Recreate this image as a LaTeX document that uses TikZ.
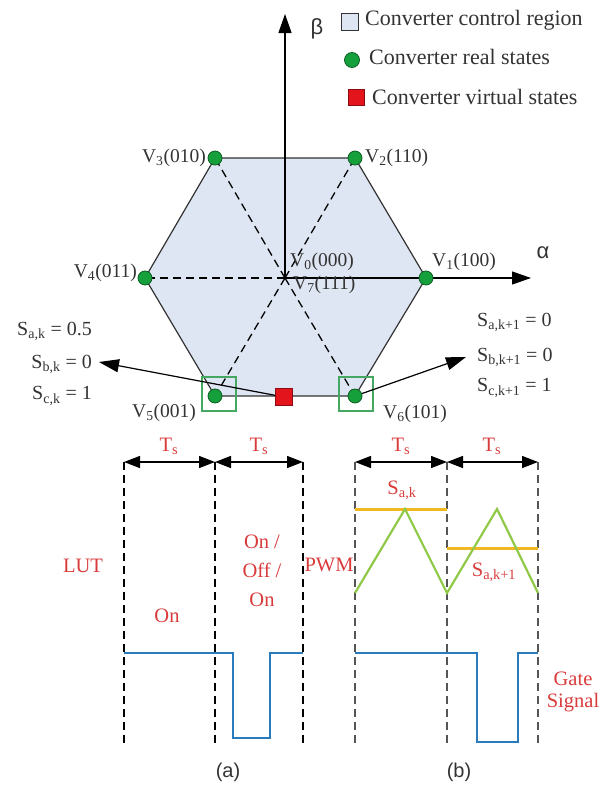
\documentclass[tikz,border=0pt]{standalone}
\usepackage{fontspec}
\setmainfont{Liberation Serif}
\newfontfamily\sansf{Liberation Sans}
\usetikzlibrary{arrows.meta}
\definecolor{hexfill}{HTML}{DFE6F3}
\definecolor{dotgreen}{HTML}{15A03C}
\definecolor{dotedge}{HTML}{0E5E24}
\definecolor{boxgreen}{HTML}{45A862}
\definecolor{vred}{HTML}{E3141C}
\definecolor{txtred}{HTML}{D93B3B}
\definecolor{sigblue}{HTML}{2A7BBE}
\definecolor{yel}{HTML}{F2B824}
\definecolor{lgreen}{HTML}{90C847}
\definecolor{txtgray}{HTML}{333333}
\definecolor{dashgray}{HTML}{555555}
\newcommand{\mysub}[1]{\textsubscript{#1}}
\begin{document}
\begin{tikzpicture}[x=1pt,y=-1pt,
  dot/.style={circle,fill=dotgreen,draw=dotedge,line width=0.8pt,minimum size=14pt,inner sep=0pt},
  gbox/.style={rectangle,draw=boxgreen,line width=1.3pt,minimum size=34pt,inner sep=0pt},
  rsq/.style={rectangle,fill=vred,draw=vred!60!black,line width=0.6pt,minimum size=17pt,inner sep=0pt},
  vlbl/.style={font=\fontsize{19.5}{21}\selectfont,text=txtgray,inner sep=0pt},
  slbl/.style={font=\fontsize{20}{22}\selectfont,text=txtgray,inner sep=0pt},
  leg/.style={font=\fontsize{22}{24}\selectfont,text=txtgray,inner sep=0pt,anchor=west},
  rlbl/.style={font=\fontsize{20.5}{29}\selectfont,text=txtred,inner sep=0pt,align=center},
  glbl/.style={font=\sansf\fontsize{22}{24}\selectfont,text=txtgray,inner sep=0pt},
  axis/.style={line width=1.2pt,-{Triangle[length=19pt,width=13pt]}},
  hexedge/.style={line width=1.2pt,draw=txtgray},
  hexdash/.style={line width=1.3pt,dash pattern=on 8pt off 5pt},
  bigarrow/.style={line width=1.2pt,-{Triangle[length=20pt,width=13pt]}},
  tsarrow/.style={line width=1.4pt,{Triangle[length=16pt,width=12pt]}-{Triangle[length=16pt,width=12pt]}},
  adash/.style={line width=1.3pt,dash pattern=on 8pt off 5pt},
  bdash/.style={line width=2.2pt,draw=dashgray,dash pattern=on 8pt off 5pt},
  sig/.style={line width=2.6pt,draw=sigblue},
  yline/.style={line width=3pt,draw=yel},
  tri/.style={line width=2.2pt,draw=lgreen,line join=miter}
]
\useasboundingbox (0,0) rectangle (602,787);

% ---------- hexagon ----------
\coordinate (O) at (285,278);
\coordinate (p1) at (426,278);
\coordinate (p2) at (355,158);
\coordinate (p3) at (215,158);
\coordinate (p4) at (145,278);
\coordinate (p5) at (215,396);
\coordinate (p6) at (355,396);
\fill[hexfill] (p1) -- (p2) -- (p3) -- (p4) -- (p5) -- (p6) -- cycle;
\draw[hexedge] (p1) -- (p2) -- (p3) -- (p4) -- (p5) -- (p6) -- cycle;
\foreach \p in {p2,p3,p4,p5,p6} \draw[hexdash] (O) -- (\p);

% axes
\coordinate (aend) at (531,278);
\coordinate (bend) at (285,14);
\draw[axis] (O) -- (aend);
\draw[axis] (O) -- (bend);
\node[glbl] (alpha) at (543,253) {α};
\node[glbl] (beta) at (317,29) {β};

% green boxes and red square
\node[gbox] (b5) at (219,394) {};
\node[gbox] (b6) at (356,394) {};
\foreach \i in {1,...,6} \node[dot] (v\i) at (p\i) {};
\node[rsq] (rs) at (284,397) {};

% vertex labels
\node[vlbl,anchor=east] (l3) at (206,158) {V\mysub{3}(010)};
\node[vlbl,anchor=west] (l2) at (365,158) {V\mysub{2}(110)};
\node[vlbl,anchor=east] (l4) at (137,273) {V\mysub{4}(011)};
\node[vlbl,anchor=west] (l1) at (432,262) {V\mysub{1}(100)};
\node[vlbl,anchor=west] (l0) at (290,262) {V\mysub{0}(000)};
\node[vlbl,anchor=west] (l7) at (293,285) {V\mysub{7}(111)};
\node[vlbl,anchor=west] (l5) at (132,413) {V\mysub{5}(001)};
\node[vlbl,anchor=west] (l6) at (383,414) {V\mysub{6}(101)};

% state arrows
\coordinate (sl) at (99,362);
\coordinate (sr) at (466,357);
\draw[bigarrow] (rs) -- (sl);
\draw[bigarrow] (v6) -- (sr);
\node[slbl,anchor=east] (sak) at (92,331) {S\mysub{a,k} = 0.5};
\node[slbl,anchor=east] (sbk) at (92,364) {S\mysub{b,k} = 0};
\node[slbl,anchor=east] (sck) at (92,396) {S\mysub{c,k} = 1};
\node[slbl,anchor=west] (sak1) at (477,322) {S\mysub{a,k+1} = 0};
\node[slbl,anchor=west] (sbk1) at (477,357) {S\mysub{b,k+1} = 0};
\node[slbl,anchor=west] (sck1) at (477,388) {S\mysub{c,k+1} = 1};

% legend
\node[rectangle,fill=hexfill,draw=txtgray,line width=1.1pt,minimum size=17pt,inner sep=0pt] (lg1) at (350,22) {};
\node[leg] (lt1) at (365,20) {Converter control region};
\node[dot,minimum size=15pt] (lg2) at (352,60) {};
\node[leg] (lt2) at (369,57) {Converter real states};
\node[rsq,minimum size=16pt] (lg3) at (356,97) {};
\node[leg] (lt3) at (372,97) {Converter virtual states};

% ---------- timing (a) ----------
\foreach \n/\x in {a0/124,a1/215,a2/303,b0/355,b1/447,b2/538} {
  \coordinate (\n t) at (\x,462);
  \coordinate (\n b) at (\x,743);
}
\draw[adash] (a0t) -- (a0b);
\draw[adash] (a1t) -- (a1b);
\draw[adash] (a2t) -- (a2b);
\draw[bdash] (b0t) -- (b0b);
\draw[bdash] (b1t) -- (b1b);
\draw[bdash] (b2t) -- (b2b);
\draw[tsarrow] (a0t) -- (a1t);
\draw[tsarrow] (a1t) -- (a2t);
\draw[tsarrow] (b0t) -- (b1t);
\draw[tsarrow] (b1t) -- (b2t);
\node[rlbl] (ts1) at (169,446) {T\mysub{s}};
\node[rlbl] (ts2) at (259,446) {T\mysub{s}};
\node[rlbl] (ts3) at (401,446) {T\mysub{s}};
\node[rlbl] (ts4) at (492,446) {T\mysub{s}};

\draw[sig] (124,653) -- (233,653) -- (233,738) -- (270,738) -- (270,653) -- (303,653);
\node[rlbl] (lut) at (83,566) {LUT};
\node[rlbl] (on) at (167,616) {On};
\node[rlbl] (ooo) at (262,571) {On /\\Off /\\On};

% ---------- timing (b) ----------
\draw[yline] (355,509) -- (447,509);
\draw[yline] (447,548) -- (538,548);
\draw[tri] (355,593) -- (405,509) -- (447,593) -- (497,509) -- (538,593);
\draw[sig] (355,653) -- (477,653) -- (477,742) -- (518,742) -- (518,653) -- (538,653);
\node[rlbl] (pwm) at (329,565) {PWM};
\node[rlbl] (sak2) at (402,490) {S\mysub{a,k}};
\node[rlbl] (sak3) at (494,572) {S\mysub{a,k+1}};
\node[rlbl,font=\fontsize{20.5}{22}\selectfont] (gate) at (573,692) {Gate\\Signal};

\node[glbl,font=\sansf\fontsize{20}{22}\selectfont] (capa) at (228,772) {(a)};
\node[glbl,font=\sansf\fontsize{20}{22}\selectfont] (capb) at (459,772) {(b)};
\end{tikzpicture}
\end{document}
